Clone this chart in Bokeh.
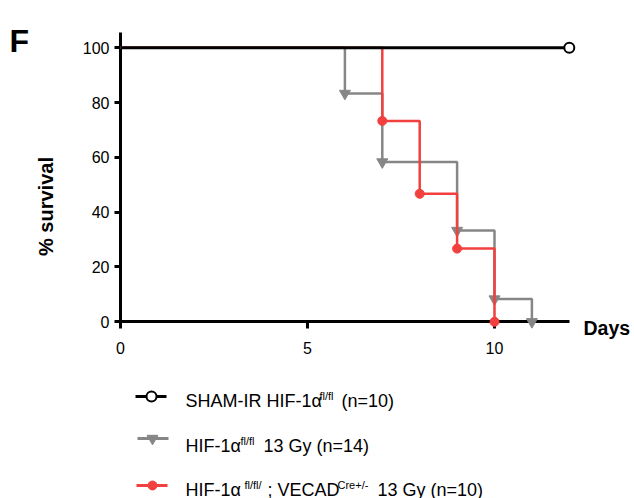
from bokeh.plotting import figure
from bokeh.models import Range1d, Label, FixedTicker
from bokeh.embed import file_html
from bokeh.resources import INLINE
from bokeh.core.properties import value
import math

# ---- data ----
sham_days = [0, 12]
sham_surv = [100, 100]
wt_days = [0, 6, 7, 9, 10, 11]
wt_surv = [100, 83.3, 58.3, 33.3, 8.3, 0]
ko_days = [0, 7, 8, 9, 10]
ko_surv = [100, 73.3, 46.7, 26.7, 0]
x_ticks = [0, 5, 10]
y_ticks = [0, 20, 40, 60, 80, 100]

panel_letter = "F"
y_title = "% survival"
x_title = "Days"

leg_main = ["SHAM-IR HIF-1α", "(n=10)", "HIF-1α", "13 Gy (n=14)",
            "HIF-1α", "; VECAD", "13 Gy (n=10)"]
leg_sup = ["fl/fl", "fl/fl", "fl/fl/", "Cre+/-"]

GRAY = "#868686"
RED = "#f2403f"
FONT = "Liberation Sans"

W, H = 634, 498
X0, XS = 120.0, 37.4      # pixel of day 0, pixels per day
Y0, YS = 321.3, 2.741     # pixel of 0 %, pixels per %


def dx(px):
    return (px - X0) / XS


def dy(py):
    return (Y0 - py) / YS


p = figure(width=W, height=H, x_range=Range1d(dx(0), dx(W)), y_range=Range1d(dy(H), dy(0)),
           output_backend="svg", toolbar_location=None, title=None, min_border=0)
p.outline_line_color = None
p.grid.visible = False
p.background_fill_color = "white"
p.border_fill_color = "white"

p.xaxis.ticker = FixedTicker(ticks=x_ticks)
p.yaxis.ticker = FixedTicker(ticks=y_ticks)
p.xaxis.fixed_location = 0
p.yaxis.fixed_location = 0
p.xaxis.bounds = (0, 12)
p.yaxis.bounds = (0, 105.5)
for ax in (p.xaxis, p.yaxis):
    ax.level = "underlay"
    ax.axis_line_width = 3
    ax.axis_line_color = "black"
    ax.major_tick_line_width = 3
    ax.major_tick_line_color = "black"
    ax.major_tick_in = 0
    ax.minor_tick_line_color = None
    ax.major_label_text_font = FONT
    ax.major_label_text_font_size = "16px"
    ax.major_label_text_color = "black"
p.xaxis.major_tick_out = 7
p.yaxis.major_tick_out = 6
p.xaxis.major_label_standoff = 13
p.yaxis.major_label_standoff = 5

# survival curves
p.step(wt_days, wt_surv, mode="after", line_color=GRAY, line_width=2.5)
p.scatter(wt_days[1:], wt_surv[1:], marker="inverted_triangle", size=11, color=GRAY)
p.step(ko_days, ko_surv, mode="after", line_color=RED, line_width=2.5)
p.scatter(ko_days[1:], ko_surv[1:], marker="circle", size=9, color=RED)
p.line(sham_days, sham_surv, line_color="black", line_width=3)
p.scatter(sham_days[-1:], sham_surv[-1:], marker="circle", size=10,
          fill_color="white", line_color="black", line_width=2)

# texts
p.add_layout(Label(x=dx(9), y=dy(40), text=panel_letter, text_font=FONT,
                   text_font_style="bold", text_font_size="32px", text_color="black",
                   text_baseline="alphabetic", text_align="left"))
p.add_layout(Label(x=dx(45), y=dy(206), text=y_title, text_font=FONT, angle=math.pi / 2,
                   text_font_style="bold", text_font_size="20px", text_color="black",
                   text_baseline="middle", text_align="center"))
p.add_layout(Label(x=dx(583), y=dy(327), text=x_title, text_font=FONT,
                   text_font_style="bold", text_font_size="19.5px", text_color="black",
                   text_baseline="middle", text_align="left"))

# legend (positions in page pixels)
seg_y = [396, 438, 485]
seg_x0 = [135, 137, 136]
seg_x1 = [166, 168, 167]
p.segment(x0=[dx(v) for v in seg_x0], y0=[dy(v) for v in seg_y],
          x1=[dx(v) for v in seg_x1], y1=[dy(v) for v in seg_y],
          line_color=["black", GRAY, RED], line_width=3)
p.scatter([dx(151)], [dy(396)], marker="circle", size=10, fill_color="white",
          line_color="black", line_width=2)
p.scatter([dx(152)], [dy(438)], marker="inverted_triangle", size=11, color=GRAY)
p.scatter([dx(152)], [dy(485)], marker="circle", size=9, color=RED)

main_x = [185, 341, 185, 263, 185, 267, 377]
main_y = [400, 400, 445, 445, 489, 489, 489]
sup_x = [319, 240, 244, 337]
sup_y = [395, 440, 484, 484]
p.text(x=[dx(v) for v in main_x], y=[dy(v) for v in main_y], text=leg_main,
       text_font=value(FONT), text_font_size="18px", text_color="black",
       text_baseline="alphabetic", text_align="left")
p.text(x=[dx(v) for v in sup_x], y=[dy(v) for v in sup_y], text=leg_sup,
       text_font=value(FONT), text_font_size="11px", text_color="black",
       text_baseline="alphabetic", text_align="left")

open("out.html", "w").write(file_html(p, INLINE))
